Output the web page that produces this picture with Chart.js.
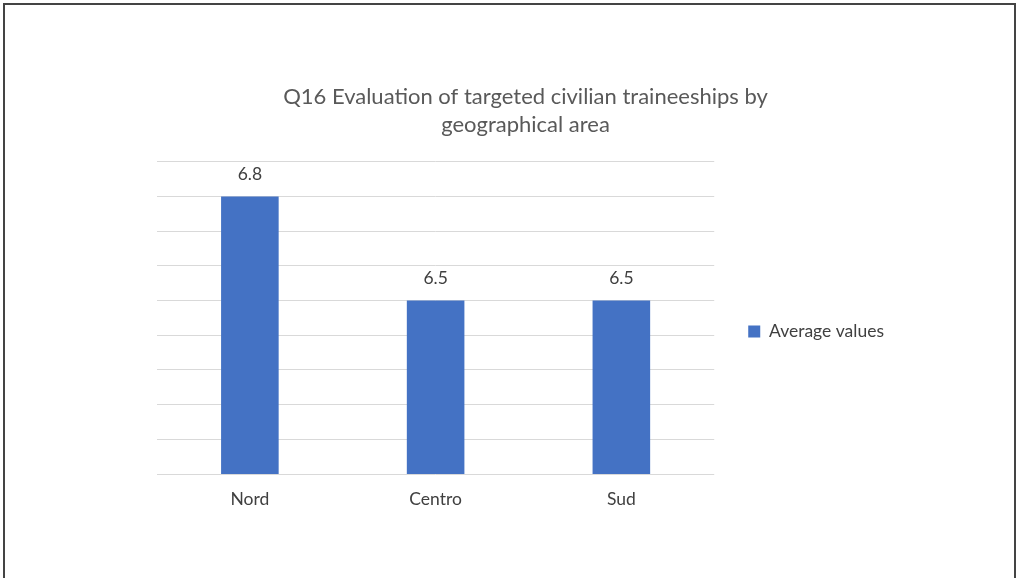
<!DOCTYPE html>
<html>
<head>
<meta charset="utf-8">
<script src="https://cdn.jsdelivr.net/npm/chart.js@4"></script>
<style>
  body { margin: 0; background: #fff; }
  #frame { position: absolute; left: 3px; top: 3px; width: 1009px; height: 580px;
           border: 2px solid #444; border-bottom: none; }
  #chart { position: absolute; left: 0; top: 0; }
</style>
</head>
<body>
<div id="frame"></div>
<canvas id="chart" width="1017" height="578"></canvas>
<script>
const categories = ['Nord', 'Centro', 'Sud']
const averageValues = [6.8, 6.5, 6.5]
const titleLines = ['Q16 Evaluation of targeted civilian traineeships by', 'geographical area']
const yMin = 6.0
const yMax = 6.9

const textColor = '#404040'
const barColor = '#4472c4'
const labelFont = { family: 'Lato', size: 17.5 }

// value labels above each bar
const valueLabels = {
    id: 'valueLabels',
    afterDatasetsDraw(chart) {
        const ctx = chart.ctx
        ctx.save()
        ctx.font = '17.5px Lato'
        ctx.fillStyle = textColor
        ctx.textAlign = 'center'
        ctx.textBaseline = 'middle'
        chart.getDatasetMeta(0).data.forEach((bar, i) => {
            ctx.fillText(averageValues[i].toFixed(1), bar.x, bar.y - 22)
        })
        ctx.restore()
    }
}

// push the legend down a bit, like in the original
const legendShift = {
    id: 'legendShift',
    afterLayout(chart) {
        chart.legend.top += 39
        chart.legend.bottom += 39
    }
}

new Chart(document.querySelector('#chart'), {
    type: 'bar',
    data: {
        labels: categories,
        datasets: [{
            label: 'Average values',
            data: averageValues,
            backgroundColor: barColor,
            barPercentage: 0.31,
            categoryPercentage: 1
        }]
    },
    options: {
        responsive: false,
        animation: false,
        layout: { padding: { left: 157, top: 60, bottom: 53, right: 123 } },
        plugins: {
            title: {
                display: true,
                text: titleLines,
                color: '#595959',
                font: { family: 'Lato', size: 22, weight: 'normal', lineHeight: 1.27 },
                padding: { top: 23, bottom: 23 }
            },
            legend: {
                position: 'right',
                labels: {
                    color: textColor,
                    font: labelFont,
                    boxWidth: 12,
                    boxHeight: 12,
                    padding: 34
                }
            },
            tooltip: { enabled: false }
        },
        scales: {
            x: {
                grid: { display: false, drawTicks: false },
                border: { display: false },
                ticks: { color: textColor, font: labelFont, padding: 15 }
            },
            y: {
                min: yMin,
                max: yMax,
                grid: { color: '#d9d9d9', drawTicks: false },
                border: { display: false },
                ticks: { display: false, stepSize: 0.1 }
            }
        }
    },
    plugins: [valueLabels, legendShift]
})
</script>
</body>
</html>
